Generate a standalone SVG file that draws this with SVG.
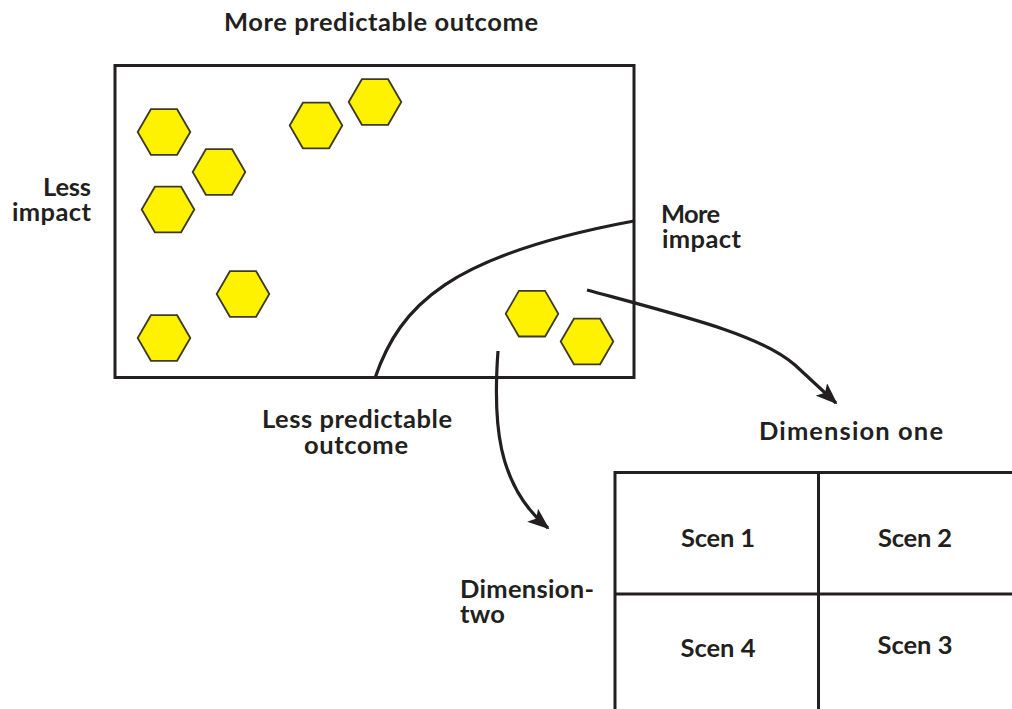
<svg xmlns="http://www.w3.org/2000/svg" width="1012" height="709" viewBox="0 0 1012 709">
  <style>
    .lbl { font-family: Lato, "Open Sans", "Liberation Sans", sans-serif; font-weight: bold; font-size: 25.5px; fill: #231f20; }
    .mid { text-anchor: middle; }
    .end { text-anchor: end; }
    .frame { fill: none; stroke: #231f20; stroke-width: 3; }
    .hex { fill: #fff200; stroke: #3d3a28; stroke-width: 1.8; }
    .wire { fill: none; stroke: #231f20; stroke-width: 3.2; stroke-linecap: butt; }
  </style>
  <defs>
    <polygon id="hexshape" points="-26.3,0 -13.1,-22.8 13.1,-22.8 26.3,0 13.1,22.8 -13.1,22.8"/>
    <marker id="head" viewBox="0 0 22 17" refX="20" refY="8.5" markerWidth="22" markerHeight="17" markerUnits="userSpaceOnUse" orient="auto">
      <path d="M0,0 L22,8.5 L0,17 L5,8.5 Z" fill="#231f20"/>
    </marker>
  </defs>

  <rect fill="#ffffff" x="0" y="0" width="1012" height="709"/>

  <!-- impact / predictability field -->
  <g id="field">
    <rect class="frame" x="115" y="65.5" width="519" height="312"/>
    <text class="lbl mid" x="381" y="31" textLength="314" lengthAdjust="spacing">More predictable outcome</text>
    <text class="lbl end" x="91" y="196" textLength="48" lengthAdjust="spacing">Less</text>
    <text class="lbl end" x="91" y="221" textLength="79" lengthAdjust="spacing">impact</text>
    <text class="lbl" x="661" y="223" textLength="59" lengthAdjust="spacing">More</text>
    <text class="lbl" x="662" y="248" textLength="79" lengthAdjust="spacing">impact</text>
    <text class="lbl mid" x="357" y="428" textLength="190" lengthAdjust="spacing">Less predictable</text>
    <text class="lbl mid" x="356" y="454" textLength="104" lengthAdjust="spacing">outcome</text>
  </g>

  <!-- driving forces -->
  <g id="forces">
    <use class="hex" href="#hexshape" x="164" y="132"/>
    <use class="hex" href="#hexshape" x="219" y="172"/>
    <use class="hex" href="#hexshape" x="168" y="209.5"/>
    <use class="hex" href="#hexshape" x="316" y="125.5"/>
    <use class="hex" href="#hexshape" x="375" y="102"/>
    <use class="hex" href="#hexshape" x="243" y="294"/>
    <use class="hex" href="#hexshape" x="164" y="338"/>
    <use class="hex" href="#hexshape" x="532" y="313.7"/>
    <use class="hex" href="#hexshape" x="587" y="341.5"/>
  </g>

  <!-- scenario matrix -->
  <g id="matrix">
    <path class="frame" d="M615,709 V472.5 H1012 M818.5,472.5 V709 M615,594 H1012"/>
    <text class="lbl mid" x="851" y="440" textLength="184" lengthAdjust="spacing">Dimension one</text>
    <text class="lbl" x="460" y="598" textLength="134" lengthAdjust="spacing">Dimension-</text>
    <text class="lbl" x="460" y="623" textLength="45" lengthAdjust="spacing">two</text>
    <text class="lbl mid" x="718" y="547" textLength="74" lengthAdjust="spacing">Scen 1</text>
    <text class="lbl mid" x="915" y="547" textLength="74" lengthAdjust="spacing">Scen 2</text>
    <text class="lbl mid" x="718" y="657" textLength="75" lengthAdjust="spacing">Scen 4</text>
    <text class="lbl mid" x="915" y="654" textLength="75" lengthAdjust="spacing">Scen 3</text>
  </g>

  <!-- connectors -->
  <g id="connectors">
    <path class="wire" d="M375,378 C400,305 450,255 634,221"/>
    <path class="wire" marker-end="url(#head)" d="M587,290 C690,318 760,335 795,365 L836,403"/>
    <path class="wire" marker-end="url(#head)" d="M498,351 C493,420 496,485 548,528"/>
  </g>
</svg>
